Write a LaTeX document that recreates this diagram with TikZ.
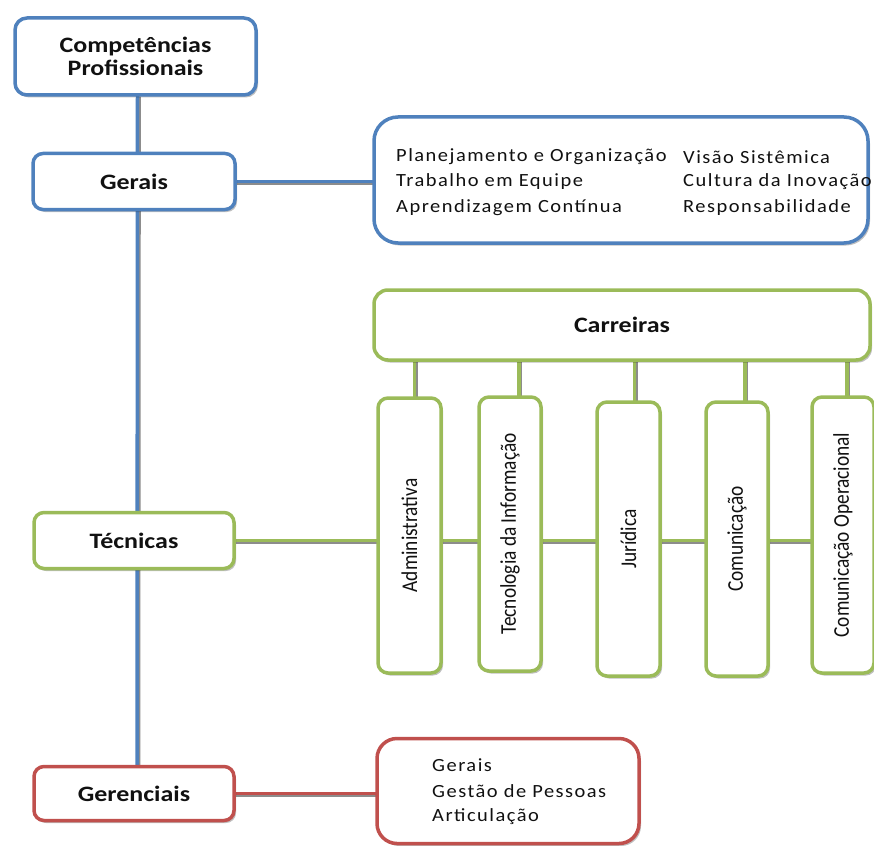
\documentclass[tikz,border=0pt]{standalone}
\usepackage{fontspec}
\setmainfont{Carlito}
\newfontfamily\hdrfont[FakeStretch=1.18]{Carlito}
\newfontfamily\lstfont[FakeStretch=1.1,LetterSpace=8]{Carlito}
\newfontfamily\vfont[FakeStretch=0.86]{Carlito}
\usetikzlibrary{shadows,backgrounds,calc}
\definecolor{cblue}{HTML}{4F81BD}
\definecolor{cgreen}{HTML}{9BBB59}
\definecolor{cred}{HTML}{C0504D}
\definecolor{sgray}{HTML}{8C8C8C}
\definecolor{txt}{HTML}{111111}
\tikzset{
  cbox/.style={draw=#1, line width=3.5pt, fill=white, rounded corners=10pt,
    drop shadow={shadow xshift=2pt, shadow yshift=-2.5pt, opacity=0.25, fill=black},
    inner sep=0pt, outer sep=0pt},
  hdr/.style={font=\hdrfont\bfseries\fontsize{22}{26}\selectfont, align=center, text=txt},
  lst/.style={font=\lstfont\fontsize{18.6}{22}\selectfont, anchor=west, inner sep=0pt, text=txt},
  vtx/.style={font=\vfont\fontsize{22.5}{26}\selectfont, text=txt},
  conn/.style={draw=#1, line width=3.5pt,
    preaction={draw=sgray, line width=3.5pt, transform canvas={shift={(1.6pt,-1.6pt)}}}},
}
\begin{document}
\begin{tikzpicture}[x=1pt,y=-1pt]
\useasboundingbox (0,0) rectangle (874,845);
% left column boxes
\node[cbox=cblue, rounded corners=12pt, minimum width=241pt, minimum height=77pt, hdr] (comp) at (135.5,56.5) {Competências\\[-3pt]Profissionais};
\node[cbox=cblue, minimum width=202pt, minimum height=56pt, hdr] (gerais) at (134,181.5) {Gerais};
\node[cbox=cgreen, minimum width=200pt, minimum height=56pt, hdr] (tecnicas) at (134,540.5) {Técnicas};
\node[cbox=cred, minimum width=200pt, minimum height=54pt, hdr] (gerenc) at (134,793.5) {Gerenciais};
% gerais list
\node[cbox=cblue, rounded corners=24pt, minimum width=494pt, minimum height=126pt] (list1) at (621,180) {};
\node[lst] (l1a) at (396,157) {Planejamento e Organização};
\node[lst] (l1b) at (396,182) {Trabalho em Equipe};
\node[lst] (l1c) at (396,208) {Aprendizagem Contínua};
\node[lst] (l1d) at (683,157) {Visão Sistêmica};
\node[lst] (l1e) at (683,182) {Cultura da Inovação};
\node[lst] (l1f) at (683,208) {Responsabilidade};
% carreiras
\node[cbox=cgreen, rounded corners=14pt, minimum width=496pt, minimum height=70pt, hdr] (carr) at (622,325) {Carreiras};
\node[cbox=cgreen, minimum width=63pt, minimum height=275pt, vtx] (v1) at (409.5,535.5) {\rotatebox{90}{Administrativa}};
\node[cbox=cgreen, minimum width=62pt, minimum height=274pt, vtx] (v2) at (510,534) {\rotatebox{90}{Tecnologia da Informação}};
\node[cbox=cgreen, minimum width=63pt, minimum height=274pt, vtx] (v3) at (628.5,539) {\rotatebox{90}{Jurídica}};
\node[cbox=cgreen, minimum width=62pt, minimum height=274pt, vtx] (v4) at (737,539) {\rotatebox{90}{Comunicação}};
\node[cbox=cgreen, minimum width=62pt, minimum height=276pt, vtx] (v5) at (843,535) {\rotatebox{90}{Comunicação Operacional}};
% gerenciais list
\node[cbox=cred, rounded corners=20pt, minimum width=262pt, minimum height=105pt] (list2) at (508,791) {};
\node[lst] (l2a) at (432,765) {Gerais};
\node[lst] (l2b) at (432,791) {Gestão de Pessoas};
\node[lst] (l2c) at (432,817) {Articulação};
% connectors
\begin{pgfonlayer}{background}
\draw[conn=cblue] ([xshift=2pt]comp.south) -- ([xshift=3pt]gerenc.north);
\draw[conn=cblue] (gerais.east) -- (gerais.east -| list1.west);
\draw[conn=cgreen] (tecnicas.east) -- (tecnicas.east -| v5.west);
\draw[conn=cred] (gerenc.east) -- (gerenc.east -| list2.west);
\draw[conn=cgreen] ([xshift=5pt]v1.north) -- ([xshift=5pt]v1.north |- carr.south);
\draw[conn=cgreen] ([xshift=9pt]v2.north) -- ([xshift=9pt]v2.north |- carr.south);
\draw[conn=cgreen] ([xshift=6pt]v3.north) -- ([xshift=6pt]v3.north |- carr.south);
\draw[conn=cgreen] ([xshift=8pt]v4.north) -- ([xshift=8pt]v4.north |- carr.south);
\draw[conn=cgreen] ([xshift=4pt]v5.north) -- ([xshift=4pt]v5.north |- carr.south);
\end{pgfonlayer}
\end{tikzpicture}
\end{document}
